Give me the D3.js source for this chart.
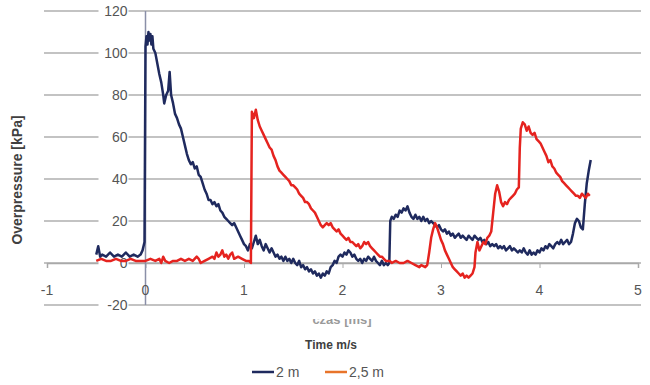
<!DOCTYPE html>
<html>
<head>
<meta charset="utf-8">
<script src="https://cdn.jsdelivr.net/npm/d3@7/dist/d3.min.js"></script>
<style>
  html, body { margin: 0; padding: 0; background: #fff; }
  svg { display: block; font-family: "Liberation Sans", Arial, sans-serif; }
</style>
</head>
<body>
<svg id="chart" width="650" height="385"></svg>
<script>
// Pressure records at two stand-off distances: time [ms], overpressure [kPa]
const time2m = [
  -0.50,-0.48,-0.46,-0.44,-0.40,-0.36,-0.32,-0.28,-0.24,-0.20,-0.16,-0.12,-0.08,-0.05,-0.03,-0.01,
  0.00,0.01,0.02,0.03,0.04,0.05,0.06,0.07,0.08,0.10,0.12,0.14,0.16,0.18,0.19,0.21,0.23,0.245,0.26,0.28,
  0.30,0.32,0.34,0.36,0.38,0.40,0.42,0.44,0.46,0.48,0.50,0.52,0.54,0.56,0.58,0.60,0.62,0.64,0.66,0.68,
  0.70,0.72,0.74,0.76,0.78,0.80,0.82,0.84,0.86,0.88,0.90,0.92,0.94,0.96,0.98,1.00,1.02,1.04,1.06,1.08,
  1.10,1.12,1.14,1.16,1.18,1.20,1.22,1.24,1.26,1.28,1.30,1.32,1.34,1.36,1.38,1.40,1.42,1.44,1.46,1.48,
  1.50,1.52,1.54,1.56,1.58,1.60,1.62,1.64,1.66,1.68,1.70,1.72,1.74,1.76,1.78,1.80,1.82,1.84,1.86,1.88,
  1.90,1.92,1.94,1.96,1.98,2.00,2.02,2.04,2.06,2.08,2.10,2.12,2.14,2.16,2.18,2.20,2.22,2.24,2.26,2.28,
  2.30,2.32,2.34,2.36,2.38,2.40,2.42,2.44,2.46,2.475,2.485,2.50,2.52,2.54,2.56,2.58,2.60,2.62,2.64,2.66,
  2.68,2.70,2.72,2.74,2.76,2.78,2.80,2.82,2.84,2.86,2.88,2.90,2.92,2.94,2.96,2.98,3.00,3.02,3.04,3.06,
  3.08,3.10,3.12,3.14,3.16,3.18,3.20,3.22,3.24,3.26,3.28,3.30,3.32,3.34,3.36,3.38,3.40,3.42,3.44,3.46,
  3.48,3.50,3.52,3.54,3.56,3.58,3.60,3.62,3.64,3.66,3.68,3.70,3.72,3.74,3.76,3.78,3.80,3.82,3.84,3.86,
  3.88,3.90,3.92,3.94,3.96,3.98,4.00,4.02,4.04,4.06,4.08,4.10,4.12,4.14,4.16,4.18,4.20,4.22,4.24,4.26,
  4.28,4.30,4.32,4.34,4.36,4.38,4.40,4.42,4.44,4.46,4.48,4.50,4.52
];
const pressure2m = [
  4,8,3,4,3,5,3,4,3,5,3,4,3,4,6,10,
  103,108,104,110,106,109,104,108,102,100,95,90,86,80,76,80,82,91,80,76,
  71,69,66,64,60,56,52,49,47,48,45,46,42,41,38,35,33,30,30,28,
  29,27,28,25,24,22,21,20,19,18,19,17,15,13,11,9,8,6,9,7,
  10,13,9,11,8,6,9,7,5,7,5,3,4,2,3,1,3,1,2,0,
  2,0,-1,1,-2,-1,-3,-2,-4,-3,-5,-4,-6,-5,-7,-5,-6,-4,-5,-2,
  -1,1,0,3,4,3,5,4,6,5,3,4,2,1,2,0,2,1,3,2,
  1,3,1,0,-1,1,-1,0,-1,0,20,22,21,23,22,25,24,26,25,27,
  24,22,21,23,21,22,20,22,20,21,19,20,19,18,17,18,16,15,16,14,
  15,13,14,12,13,14,12,13,12,11,13,12,11,13,12,11,12,10,11,9,
  10,8,9,8,9,7,8,7,8,6,7,8,6,7,6,5,6,5,7,5,
  4,6,4,5,4,6,5,7,6,8,7,9,8,7,9,10,9,11,9,10,
  11,9,10,14,19,21,20,17,16,28,38,44,49
];

const time25m = [
  -0.50,-0.45,-0.40,-0.35,-0.30,-0.25,-0.20,-0.15,-0.10,-0.05,0.00,0.05,0.10,0.14,0.16,0.18,0.20,0.24,0.28,0.32,
  0.36,0.40,0.44,0.48,0.52,0.54,0.56,0.60,0.64,0.68,0.70,0.72,0.74,0.76,0.78,0.80,0.82,0.84,0.86,0.88,
  0.90,0.94,0.98,1.02,1.05,1.07,1.08,1.10,1.12,1.14,1.16,1.18,1.20,1.22,1.24,1.26,1.28,1.30,1.32,1.34,
  1.36,1.38,1.40,1.42,1.44,1.46,1.48,1.50,1.52,1.54,1.56,1.58,1.60,1.62,1.64,1.66,1.68,1.70,1.72,1.74,
  1.76,1.78,1.80,1.82,1.84,1.86,1.88,1.90,1.92,1.94,1.96,1.98,2.00,2.02,2.04,2.06,2.08,2.10,2.12,2.14,
  2.16,2.18,2.20,2.22,2.24,2.26,2.28,2.30,2.32,2.34,2.36,2.38,2.40,2.42,2.44,2.46,2.48,2.50,2.54,2.58,
  2.62,2.66,2.70,2.74,2.78,2.80,2.84,2.86,2.88,2.90,2.92,2.94,2.96,2.98,3.00,3.02,3.04,3.06,3.08,3.10,
  3.12,3.14,3.16,3.18,3.20,3.22,3.24,3.26,3.28,3.30,3.32,3.34,3.35,3.37,3.39,3.41,3.43,3.45,3.47,3.49,
  3.51,3.53,3.55,3.57,3.59,3.61,3.63,3.65,3.67,3.69,3.71,3.73,3.75,3.77,3.79,3.80,3.81,3.83,3.85,3.87,
  3.89,3.91,3.93,3.95,3.97,3.99,4.01,4.03,4.05,4.07,4.09,4.11,4.13,4.15,4.17,4.19,4.21,4.23,4.25,4.27,
  4.29,4.31,4.33,4.35,4.37,4.39,4.41,4.43,4.45,4.47,4.49,4.51
];
const pressure25m = [
  1,2,1,1,2,1,1,2,1,1,1,2,1,2,0,3,1,0,1,1,
  2,1,2,1,3,2,0,1,2,3,2,5,3,4,6,3,4,2,4,5,
  2,3,2,1,1,0,72,69,73,68,65,63,61,59,57,55,54,51,49,46,
  44,43,42,41,40,39,37,37,36,35,33,32,31,29,29,28,26,25,24,22,
  20,18,17,18,19,18,19,17,16,15,16,14,13,12,11,12,10,10,9,8,
  9,7,8,10,9,10,8,7,6,5,4,3,3,2,1,1,1,0,1,0,
  0,1,0,-1,-2,-1,-2,-1,5,12,16,19,17,14,11,9,6,4,2,0,
  -2,-3,-4,-5,-6,-5,-7,-6,-7,-6,-5,-2,5,10,6,8,10,9,12,13,
  15,24,33,37,34,29,27,29,28,30,31,32,33,35,36,55,64,67,66,63,
  65,62,61,62,59,58,57,55,53,51,48,49,46,45,43,42,41,39,38,37,
  36,35,34,33,32,32,31,33,32,31,33,32
];

const xTicks = [-1, 0, 1, 2, 3, 4, 5];
const yTicks = [-20, 0, 20, 40, 60, 80, 100, 120];
const seriesNames = ["2 m", "2,5 m"];

const svg = d3.select("#chart");

const x = d3.scaleLinear().domain([-1, 5]).range([47, 638]);
const y = d3.scaleLinear().domain([-20, 120]).range([305, 11]);

const gridColor = "#c3c3c3";
const labelColor = "#555555";
const lineColors = ["#1f2a5e", "#e5231f"];
const legendColors = ["#1f2a5e", "#e8742a"];

// Horizontal gridlines
svg.append("g")
  .selectAll("line")
  .data(yTicks)
  .join("line")
  .attr("x1", 44).attr("x2", 641)
  .attr("y1", d => y(d)).attr("y2", d => y(d))
  .attr("stroke", gridColor)
  .attr("stroke-width", 2);

// Horizontal axis through zero with tick marks
const xAxis = d3.axisBottom(x).tickValues(xTicks).tickSize(5).tickFormat("");
const gx = svg.append("g").attr("transform", `translate(0,${y(0)})`).call(xAxis);
gx.select(".domain").attr("stroke", "#a9a9a9").attr("stroke-width", 1.5);
gx.selectAll(".tick line").attr("stroke", "#a9a9a9");

// Vertical axis through zero
svg.append("line")
  .attr("x1", x(0)).attr("x2", x(0))
  .attr("y1", y(120)).attr("y2", y(-20))
  .attr("stroke", "#8a8fa8")
  .attr("stroke-width", 1.5);

// X tick labels
svg.append("g")
  .selectAll("text")
  .data(xTicks)
  .join("text")
  .attr("x", d => x(d))
  .attr("y", 295)
  .attr("text-anchor", "middle")
  .attr("font-size", 14)
  .attr("fill", labelColor)
  .text(d => d);

// Y tick labels sit beside the zero axis, on a white backing
const yl = svg.append("g");
yl.selectAll("rect")
  .data(yTicks)
  .join("rect")
  .attr("x", x(0) - 47).attr("width", 30)
  .attr("y", d => y(d) - 8).attr("height", 16)
  .attr("fill", "#fff");
yl.selectAll("text")
  .data(yTicks)
  .join("text")
  .attr("x", x(0) - 18)
  .attr("y", d => y(d) + 5)
  .attr("text-anchor", "end")
  .attr("font-size", 14)
  .attr("fill", labelColor)
  .text(d => d);

// Series lines
const line = d3.line()
  .x(d => x(d[0]))
  .y(d => y(d[1]));

const series = [
  d3.zip(time2m, pressure2m),
  d3.zip(time25m, pressure25m)
];

svg.append("g")
  .selectAll("path")
  .data(series)
  .join("path")
  .attr("d", line)
  .attr("fill", "none")
  .attr("stroke", (d, i) => lineColors[i])
  .attr("stroke-width", 2.5)
  .attr("stroke-linejoin", "round");

// Axis titles
svg.append("text")
  .attr("transform", `translate(22,180) rotate(-90)`)
  .attr("text-anchor", "middle")
  .attr("font-size", 14)
  .attr("font-weight", "bold")
  .attr("fill", "#404040")
  .text("Overpressure [kPa]");

// Earlier axis caption, mostly covered
svg.append("defs").append("clipPath").attr("id", "half")
  .append("rect").attr("x", 280).attr("y", 319).attr("width", 130).attr("height", 10);
svg.append("text")
  .attr("x", 342).attr("y", 324)
  .attr("text-anchor", "middle")
  .attr("font-size", 13)
  .attr("font-weight", "bold")
  .attr("fill", "#9a9a9a")
  .attr("clip-path", "url(#half)")
  .text("czas [ms]");

svg.append("text")
  .attr("x", 331).attr("y", 349)
  .attr("text-anchor", "middle")
  .attr("font-size", 12)
  .attr("font-weight", "bold")
  .attr("fill", "#404040")
  .text("Time m/s");

// Legend
const legendX = [252, 325];
const lg = svg.append("g")
  .selectAll("g")
  .data(seriesNames)
  .join("g")
  .attr("transform", (d, i) => `translate(${legendX[i]},372)`);
lg.append("line")
  .attr("x1", 0).attr("x2", 22)
  .attr("stroke", (d, i) => legendColors[i])
  .attr("stroke-width", 2.5);
lg.append("text")
  .attr("x", 24).attr("y", 5)
  .attr("font-size", 14)
  .attr("fill", labelColor)
  .text(d => d);
</script>
</body>
</html>
